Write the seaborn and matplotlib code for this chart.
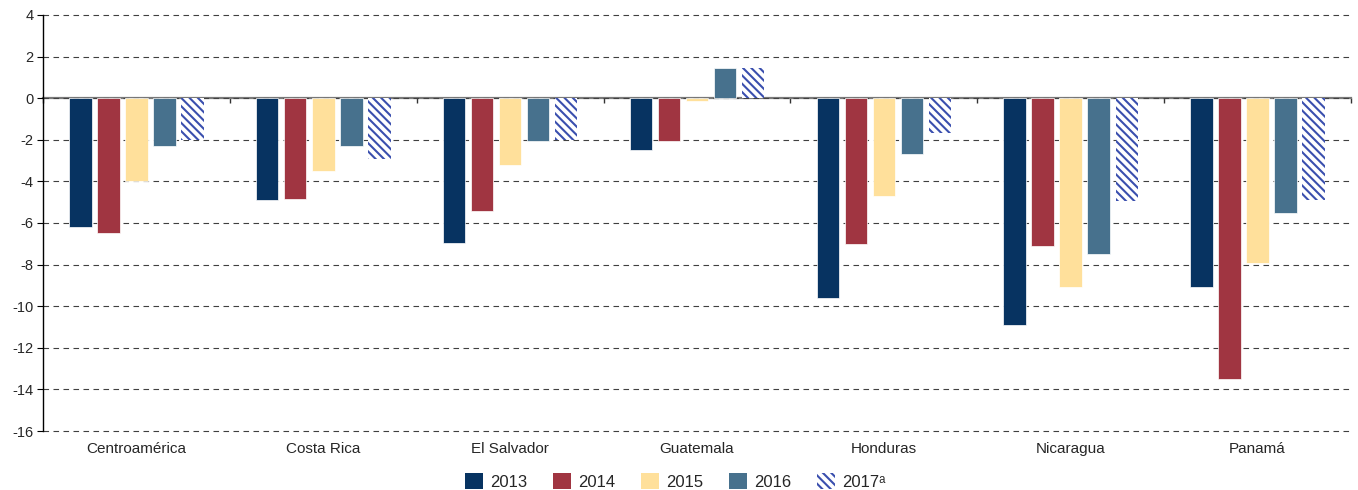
import numpy as np
import pandas as pd
import matplotlib
matplotlib.use("Agg")
import matplotlib.pyplot as plt
from matplotlib.patches import Patch
import seaborn as sns

# Data
paises = ["Centroamérica", "Costa Rica", "El Salvador", "Guatemala",
          "Honduras", "Nicaragua", "Panamá"]
anios = ["2013", "2014", "2015", "2016", "2017"]
v2013 = [-6.2, -4.9, -6.95, -2.5, -9.6, -10.9, -9.1]
v2014 = [-6.5, -4.85, -5.4, -2.05, -7.0, -7.1, -13.5]
v2015 = [-4.0, -3.5, -3.2, -0.15, -4.7, -9.1, -7.9]
v2016 = [-2.3, -2.3, -2.05, 1.45, -2.7, -7.5, -5.5]
v2017 = [-2.0, -2.9, -2.0, 1.45, -1.65, -4.95, -4.9]
etiquetas = ["2013", "2014", "2015", "2016", "2017ᵃ"]
colores = ["#073361", "#A03541", "#FFE09B", "#47718D", "#FFFFFF"]
color_trama = "#3A4FAE"

sns.set_style("white")
plt.rcParams["font.family"] = ["Liberation Sans", "DejaVu Sans"]
plt.rcParams["axes.unicode_minus"] = False
plt.rcParams["hatch.linewidth"] = 1.5

df = pd.DataFrame({
    "pais": np.repeat(paises, len(anios)),
    "anio": anios * len(paises),
    "valor": np.column_stack([v2013, v2014, v2015, v2016, v2017]).ravel(),
})

fig = plt.figure(figsize=(13.58, 4.9), dpi=100)
ax = fig.add_axes([0.0317, 0.1204, 0.9631, 0.849])

sns.barplot(data=df, x="pais", y="valor", hue="anio", order=paises,
            hue_order=anios, palette=colores, saturation=1, width=0.75,
            gap=0.2, legend=False, edgecolor="white", linewidth=0.5, ax=ax)

# 2017 bars: hatched, no fill
for bar in ax.containers[4]:
    bar.set_facecolor("white")
    bar.set_edgecolor(color_trama)
    bar.set_hatch("\\\\\\\\")
    bar.set_linewidth(0)

ax.set_ylim(-16, 4)
ax.set_xlim(-0.5, len(paises) - 0.5)
ax.set_yticks(np.arange(-16, 5, 2))
ax.set_xlabel("")
ax.set_ylabel("")
ax.grid(axis="y", color="#404040", linestyle=(0, (5, 4)), linewidth=0.8)
for line in ax.get_ygridlines():
    line.set_clip_on(False)
ax.set_axisbelow(True)
for s in ["top", "right", "bottom"]:
    ax.spines[s].set_visible(False)
ax.spines["left"].set_color("black")
ax.spines["left"].set_linewidth(1.0)
ax.tick_params(axis="y", left=True, length=4, width=0.8, color="black",
               labelsize=10.5, pad=3)
ax.tick_params(axis="x", bottom=False, length=0, labelsize=11, pad=8)

# zero line with group separators
sec = ax.secondary_xaxis(0.8)
sec.set_alignment("bottom")
sec.spines["bottom"].set_color("#7a7a7a")
sec.spines["bottom"].set_linewidth(1.6)
sec.set_xticks(np.arange(-0.5, len(paises), 1))
sec.set_xticklabels([])
sec.tick_params(axis="x", direction="out", length=3.5, width=1, color="#333333")

handles = [Patch(facecolor=c, edgecolor="none") for c in colores[:4]]
handles.append(Patch(facecolor="white", edgecolor=color_trama, hatch="\\\\\\\\", linewidth=0))
fig.legend(handles, etiquetas, loc="lower center", bbox_to_anchor=(0.497, -0.03),
           ncol=5, frameon=False, fontsize=12, handlelength=1.1, handleheight=1.1,
           handletextpad=0.4, columnspacing=1.55)

fig.savefig("out.png", dpi=100)
